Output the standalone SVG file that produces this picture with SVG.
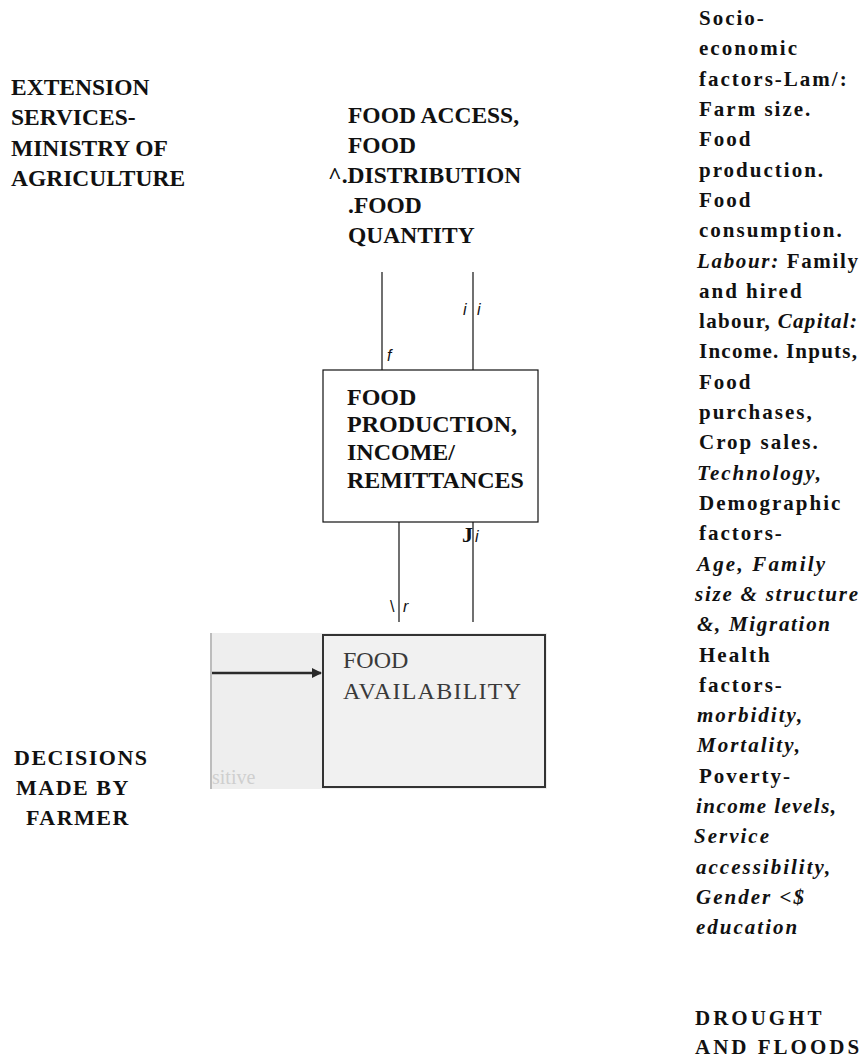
<svg xmlns="http://www.w3.org/2000/svg" width="864" height="1057" viewBox="0 0 864 1057">
<style>
.hb{font-family:"Liberation Serif","Times New Roman",serif;font-weight:bold;font-size:23.5px;fill:#111}
.rc{font-family:"Liberation Serif","Times New Roman",serif;font-weight:bold;font-size:21px;letter-spacing:2px;fill:#111}
.it{font-style:italic}
.lbl{font-family:"Liberation Sans",Arial,sans-serif;font-style:italic;font-size:16px;fill:#111}
.ln{stroke:#111;stroke-width:1.2;fill:none}
.scan{font-family:"Liberation Serif","Times New Roman",serif;font-size:24px;fill:#3a3a3a}
</style>
<defs>
<marker id="ah" markerWidth="10" markerHeight="10" refX="9" refY="5" orient="auto" markerUnits="userSpaceOnUse" viewBox="0 0 10 10">
<path d="M0,0 L10,5 L0,10 z" fill="#2a2a2a"/>
</marker>
</defs>
<rect width="864" height="1057" fill="#fff"/>

<g id="extension">
<text class="hb" x="11" y="95">EXTENSION</text>
<text class="hb" x="11" y="125">SERVICES-</text>
<text class="hb" x="11" y="156">MINISTRY OF</text>
<text class="hb" x="11" y="186">AGRICULTURE</text>
</g>

<g id="food-access">
<text class="hb" x="348" y="123">FOOD ACCESS,</text>
<text class="hb" x="348" y="153">FOOD</text>
<text class="hb" x="328" y="183">^.DISTRIBUTION</text>
<text class="hb" x="348" y="213">.FOOD</text>
<text class="hb" x="348" y="243">QUANTITY</text>
</g>

<g id="connectors">
<line class="ln" x1="382" y1="272" x2="382" y2="370"/>
<line class="ln" x1="473" y1="272" x2="473" y2="370"/>
<line class="ln" x1="399" y1="522" x2="399" y2="622"/>
<line class="ln" x1="473" y1="522" x2="473" y2="622"/>
<text class="lbl" x="387" y="361">f</text>
<text class="lbl" x="463" y="315">i</text>
<text class="lbl" x="477" y="315">i</text>
<text x="462" y="542" style="font-family:'Liberation Serif',serif;font-weight:bold;font-size:22px;fill:#111">J</text>
<text class="lbl" x="475" y="542">i</text>
<text class="lbl" x="390" y="612" style="font-style:normal">\</text>
<text class="lbl" x="403" y="612">r</text>
</g>

<g id="food-production">
<rect x="323" y="370" width="215" height="152" fill="#fff" stroke="#111" stroke-width="1.2"/>
<text class="hb" x="347" y="405" style="font-size:24px">FOOD</text>
<text class="hb" x="347" y="432" style="font-size:24px">PRODUCTION,</text>
<text class="hb" x="347" y="460" style="font-size:24px">INCOME/</text>
<text class="hb" x="347" y="488" style="font-size:24px">REMITTANCES</text>
</g>

<g id="food-availability">
<rect x="210" y="633" width="337" height="156" fill="#eeeeee"/>
<line x1="211" y1="633" x2="211" y2="789" stroke="#bdbdbd" stroke-width="2"/>
<line x1="212" y1="673" x2="321" y2="673" stroke="#2a2a2a" stroke-width="2.5" marker-end="url(#ah)"/>
<rect x="323" y="635" width="222" height="152" fill="#f1f1f1" stroke="#333" stroke-width="2"/>
<text class="scan" x="343" y="668">FOOD</text>
<text class="scan" x="343" y="699" textLength="178" lengthAdjust="spacing">AVAILABILITY</text>
<text x="212" y="784" style="font-family:'Liberation Serif',serif;font-size:20px;fill:#cfcfcf">sitive</text>
</g>

<g id="decisions">
<text class="hb" x="14" y="765" style="font-size:22px;letter-spacing:1.5px">DECISIONS</text>
<text class="hb" x="16" y="795" style="font-size:22px;letter-spacing:1.5px">MADE BY</text>
<text class="hb" x="26" y="825" style="font-size:22px;letter-spacing:1.5px">FARMER</text>
</g>

<g id="factors">
<text class="rc" x="699" y="25">Socio-</text>
<text class="rc" x="699" y="55">economic</text>
<text class="rc" x="699" y="86">factors-Lam/:</text>
<text class="rc" x="699" y="116">Farm size.</text>
<text class="rc" x="699" y="146">Food</text>
<text class="rc" x="699" y="177">production.</text>
<text class="rc" x="699" y="207">Food</text>
<text class="rc" x="699" y="237">consumption.</text>
<text class="rc" x="697" y="268" textLength="163" lengthAdjust="spacing"><tspan class="it">Labour:</tspan> Family</text>
<text class="rc" x="699" y="298">and hired</text>
<text class="rc" x="699" y="328" textLength="160" lengthAdjust="spacing">labour, <tspan class="it">Capital:</tspan></text>
<text class="rc" x="699" y="358" textLength="160" lengthAdjust="spacing">Income. Inputs,</text>
<text class="rc" x="699" y="389">Food</text>
<text class="rc" x="699" y="419">purchases,</text>
<text class="rc" x="699" y="449">Crop sales.</text>
<text class="rc it" x="697" y="480">Technology,</text>
<text class="rc" x="699" y="510">Demographic</text>
<text class="rc" x="699" y="540">factors-</text>
<text class="rc it" x="697" y="571" textLength="130" lengthAdjust="spacing">Age, Family</text>
<text class="rc it" x="695" y="601" textLength="165" lengthAdjust="spacing">size &amp; structure</text>
<text class="rc it" x="697" y="631" textLength="135" lengthAdjust="spacing">&amp;, Migration</text>
<text class="rc" x="699" y="662">Health</text>
<text class="rc" x="699" y="692">factors-</text>
<text class="rc it" x="697" y="722">morbidity,</text>
<text class="rc it" x="697" y="752">Mortality,</text>
<text class="rc" x="699" y="783">Poverty-</text>
<text class="rc it" x="696" y="813" textLength="142" lengthAdjust="spacing">income levels,</text>
<text class="rc it" x="694" y="843">Service</text>
<text class="rc it" x="696" y="874">accessibility,</text>
<text class="rc it" x="696" y="904">Gender &lt;$</text>
<text class="rc it" x="696" y="934">education</text>
</g>

<g id="drought">
<text class="rc" x="695" y="1025" style="letter-spacing:3px">DROUGHT</text>
<text class="rc" x="695" y="1054" style="letter-spacing:3px">AND FLOODS</text>
</g>
</svg>
